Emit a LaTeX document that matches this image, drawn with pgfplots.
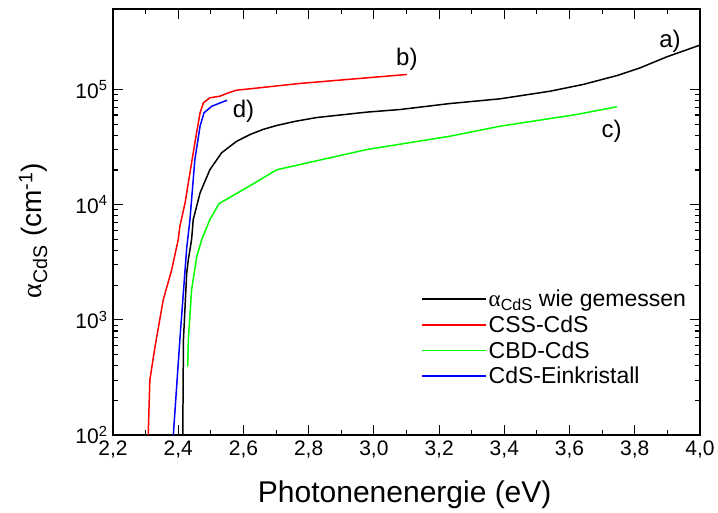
\documentclass[border=0pt]{standalone}
\usepackage{pgfplots}
\pgfplotsset{compat=1.18}
\usepackage{fontspec}
\setmainfont{Liberation Sans}
\newfontfamily\symf{Liberation Serif}
\begin{document}
\begin{tikzpicture}
\begin{axis}[
  scale only axis,
  width=587bp, height=426bp,
  xmin=2.2, xmax=4.0,
  ymode=log, ymin=100, ymax=5e5,
  xtick={2.2,2.4,...,4.01},
  xticklabels={{2,2},{2,4},{2,6},{2,8},{3,0},{3,2},{3,4},{3,6},{3,8},{4,0}},
  minor x tick num=1,
  ytick={1e2,1e3,1e4,1e5},
  yticklabels={10\textsuperscript{2},10\textsuperscript{3},10\textsuperscript{4},10\textsuperscript{5}},
  tick align=inside,
  major tick length=10bp, minor tick length=5bp,
  every tick/.style={black, line width=1.1pt},
  axis line style={line width=1.3pt},
  tick label style={font=\fontsize{21bp}{24bp}\selectfont},
  xticklabel style={yshift=-2bp},
  yticklabel style={xshift=-2bp},
  xlabel={Photonenenergie (eV)},
  ylabel={{\symf α}\textsubscript{CdS} (cm\textsuperscript{-1})},
  xlabel style={font=\fontsize{30bp}{34bp}\selectfont, at={(axis description cs:0.497,-0.141)}, anchor=center},
  ylabel style={font=\fontsize{28bp}{32bp}\selectfont, at={(axis description cs:-0.136,0.48)}, anchor=center},
  legend cell align=left,
  legend style={draw=none, fill=none, font=\fontsize{23bp}{26bp}\selectfont,
    at={(0.985,0.107)}, anchor=south east, row sep=3.5bp},
  legend image code/.code={\path (0bp,0bp) -- (64bp,0bp);\draw[#1,line width=1.5pt] (0bp,0bp) -- (53bp,0bp);},
  every axis plot/.append style={line width=1.5pt},
]
\addplot[black] coordinates {
(2.414,100) (2.416,670) (2.426,2550) (2.431,3330) (2.441,4970) (2.446,7410)
(2.467,12650) (2.497,20100) (2.533,28200) (2.579,35500) (2.620,40600)
(2.660,45000) (2.702,48700) (2.760,53000) (2.825,57100)
(2.978,63600) (3.080,67000) (3.233,75500) (3.387,83000) (3.540,96600)
(3.641,110500) (3.745,132000) (3.816,154000) (3.898,192000) (4.0,243000)
};
\addlegendentry{{\symf α}\textsubscript{CdS} wie gemessen}
\addplot[red] coordinates {
(2.308,100) (2.313,301) (2.329,586) (2.354,1490) (2.380,2720) (2.400,4970)
(2.405,6470) (2.421,10350) (2.436,18900) (2.451,34400) (2.467,62700)
(2.477,76500) (2.497,84700) (2.528,87500) (2.554,93600) (2.579,98600)
(2.620,101400) (2.773,112800) (3.101,135000)
};
\addlegendentry{CSS-CdS}
\addplot[green] coordinates {
(2.429,393) (2.431,670) (2.441,1820) (2.457,3550) (2.472,4970) (2.497,7410)
(2.525,10200) (2.620,14600) (2.702,20100) (2.978,30100) (3.233,39300)
(3.387,48000) (3.622,60700) (3.745,70800)
};
\addlegendentry{CBD-CdS}
\addplot[blue] coordinates {
(2.385,100) (2.405,670) (2.426,4200) (2.436,7410) (2.451,24600) (2.467,48000)
(2.479,62700) (2.503,71600) (2.550,80700)
};
\addlegendentry{CdS-Einkristall}
\node[font=\fontsize{24bp}{28bp}\selectfont] at (axis cs:3.908,2.63e5) {a)};
\node[font=\fontsize{24bp}{28bp}\selectfont] at (axis cs:3.101,1.82e5) {b)};
\node[font=\fontsize{24bp}{28bp}\selectfont] at (axis cs:3.729,43400) {c)};
\node[font=\fontsize{24bp}{28bp}\selectfont] at (axis cs:2.600,64700) {d)};
\end{axis}
\pgfresetboundingbox
\path (current axis.south west) ++(-113bp,-78bp) rectangle ++(718bp,513bp);
\end{tikzpicture}
\end{document}
